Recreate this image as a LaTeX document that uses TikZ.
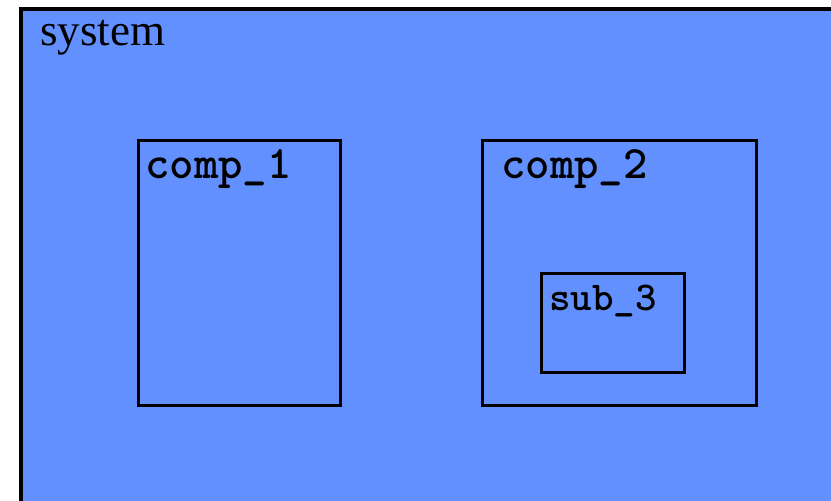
\documentclass[tikz,border=0pt]{standalone}
\usepackage{fontspec}
\setmainfont{Liberation Serif}
\definecolor{sysblue}{RGB}{98,144,255}
\begin{document}
\begin{tikzpicture}[x=1pt,y=-1pt,
  outerbox/.style={draw=black,line width=4pt,fill=sysblue},
  innerbox/.style={draw=black,line width=3pt,inner sep=0pt,outer sep=0pt},
  lbl/.style={inner sep=0pt,anchor=base west,text=black}]
\useasboundingbox (0,0) rectangle (831,501);
\clip (0,0) rectangle (831,501);
\node[outerbox,inner sep=0pt,minimum width=840pt,minimum height=520pt,anchor=north west] (system) at (19,7) {};
\node[lbl,font=\fontsize{45}{45}\selectfont] (systemlabel) at (40,45) {system};
\node[innerbox,minimum width=202pt,minimum height=265pt,anchor=north west] (comp1) at (138,140) {};
\node[innerbox,minimum width=274pt,minimum height=265pt,anchor=north west] (comp2) at (482,140) {};
\node[innerbox,minimum width=143pt,minimum height=99pt,anchor=north west] (sub3) at (541,273) {};
\node[lbl,font=\ttfamily\bfseries\fontsize{46.5}{46.5}\selectfont] (comp1label) at (145,178) {comp\_1};
\node[lbl,font=\ttfamily\bfseries\fontsize{46.5}{46.5}\selectfont] (comp2label) at (501,178) {comp\_2};
\node[lbl,font=\ttfamily\bfseries\fontsize{41}{41}\selectfont] (sub3label) at (549,310) {sub\_3};
\end{tikzpicture}
\end{document}
